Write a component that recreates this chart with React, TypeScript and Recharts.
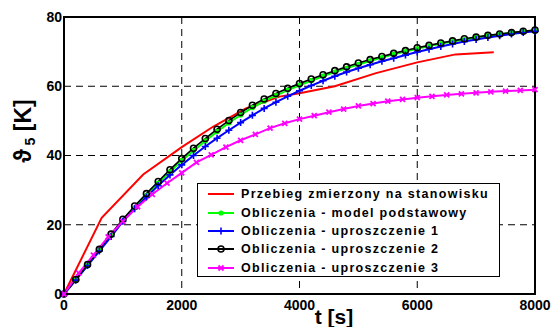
import React from 'react';
import { LineChart, Line, XAxis, YAxis, CartesianGrid, ReferenceArea, Legend } from 'recharts';

// czas [s] dla serii obliczeniowych
const TIMES = [
  0, 200, 400, 600, 800, 1000, 1200, 1400, 1600, 1800, 2000, 2200, 2400, 2600, 2800, 3000,
  3200, 3400, 3600, 3800, 4000, 4200, 4400, 4600, 4800, 5000, 5200, 5400, 5600, 5800, 6000,
  6200, 6400, 6600, 6800, 7000, 7200, 7400, 7600, 7800, 8000,
];
const TIMES_U3 = [
  0, 250, 500, 750, 1000, 1250, 1500, 1750, 2000, 2250, 2500, 2750, 3000, 3250, 3500, 3750,
  4000, 4250, 4500, 4750, 5000, 5250, 5500, 5750, 6000, 6250, 6500, 6750, 7000, 7250, 7500,
  7750, 8000,
];
const TIMES_MEAS = [0, 640, 1345, 2000, 2530, 3090, 3660, 4000, 4600, 5300, 6000, 6650, 7300];

const MEASURED = [0, 22, 34.5, 42.4, 48.3, 53.6, 57, 58, 60, 63.8, 66.9, 69.2, 69.8];
const BASE_MODEL = [
  0, 4.1, 8.3, 12.6, 16.9, 21.1, 24.9, 28.5, 32, 35.3, 38.5, 41.4, 44.2, 46.9, 49.4, 51.7,
  53.8, 55.7, 57.3, 58.9, 60.3, 61.6, 62.9, 64.1, 65.2, 66.3, 67.3, 68.3, 69.2, 70, 70.8,
  71.6, 72.3, 72.9, 73.5, 74.1, 74.6, 75, 75.4, 75.8, 76.1,
];
const SIMPL_1 = [
  0, 4, 8.2, 12.4, 16.6, 21, 24.6, 28, 31.3, 34.4, 37.3, 40, 42.6, 45, 47.3, 49.5,
  51.6, 53.6, 55.4, 57.1, 58.7, 60.2, 61.6, 62.9, 64.1, 65.2, 66.2, 67.2, 68.1, 69, 69.9,
  70.7, 71.5, 72.2, 72.9, 73.5, 74.1, 74.6, 75.1, 75.5, 75.9,
];
const SIMPL_2 = [
  0, 4.2, 8.5, 12.9, 17.3, 21.6, 25.4, 29, 32.5, 35.9, 39.1, 42.1, 44.9, 47.6, 50.1, 52.4,
  54.5, 56.3, 57.9, 59.4, 60.8, 62.1, 63.3, 64.5, 65.6, 66.7, 67.7, 68.6, 69.5, 70.3, 71.1,
  71.8, 72.5, 73.1, 73.7, 74.2, 74.7, 75.1, 75.5, 75.9, 76.2,
];
const SIMPL_3 = [
  0, 6, 11.2, 16.5, 21, 25.2, 28.8, 32, 35, 38, 40.2, 42.4, 44.4, 46.1, 47.9, 49.3,
  50.5, 51.5, 52.5, 53.4, 54.3, 55, 55.7, 56.2, 56.7, 57.1, 57.5, 57.8, 58.1, 58.4, 58.6,
  58.8, 59,
];

const X_TICKS = [0, 2000, 4000, 6000, 8000];
const Y_TICKS = [0, 20, 40, 60, 80];

const LEGEND_LABELS = [
  'Przebieg zmierzony na stanowisku',
  'Obliczenia - model podstawowy',
  'Obliczenia - uproszczenie 1',
  'Obliczenia - uproszczenie 2',
  'Obliczenia - uproszczenie 3',
];

const FONT = '"Liberation Sans", Arial, sans-serif';

const pts = (ts: number[], vs: number[]) => ts.map((t, i) => ({ t, v: vs[i] }));

type Mk = 'none' | 'dot' | 'plus' | 'circle' | 'x';

const marker = (kind: Mk, cx: number, cy: number, color: string, key?: string) => {
  switch (kind) {
    case 'dot':
      return <circle key={key} cx={cx} cy={cy} r={2.6} fill={color} stroke="none" />;
    case 'plus':
      return <path key={key} d={`M${cx - 3.5},${cy}h7M${cx},${cy - 3.5}v7`} stroke={color} strokeWidth={1.6} fill="none" />;
    case 'circle':
      return <circle key={key} cx={cx} cy={cy} r={3} fill="none" stroke={color} strokeWidth={1.6} />;
    case 'x':
      return <path key={key} d={`M${cx - 2.5},${cy - 2.5}l5,5M${cx - 2.5},${cy + 2.5}l5,-5`} stroke={color} strokeWidth={1.8} fill="none" />;
    default:
      return <g key={key} />;
  }
};

const dotFn = (kind: Mk, color: string, id: string) => (p: any) => {
  if (p.cx == null || p.cy == null) return <g key={`${id}-${p.index}`} />;
  return marker(kind, p.cx, p.cy, color, `${id}-${p.index}`);
};

const SERIES: { name: string; color: string; mk: Mk; data: { t: number; v: number }[]; w: number }[] = [
  { name: LEGEND_LABELS[0], color: '#ff0000', mk: 'none', data: pts(TIMES_MEAS, MEASURED), w: 2 },
  { name: LEGEND_LABELS[1], color: '#00ff00', mk: 'dot', data: pts(TIMES, BASE_MODEL), w: 2 },
  { name: LEGEND_LABELS[2], color: '#0000ff', mk: 'plus', data: pts(TIMES, SIMPL_1), w: 2 },
  { name: LEGEND_LABELS[3], color: '#000000', mk: 'circle', data: pts(TIMES, SIMPL_2), w: 1.6 },
  { name: LEGEND_LABELS[4], color: '#ff00ff', mk: 'x', data: pts(TIMES_U3, SIMPL_3), w: 2 },
];

const renderLegend = () => (
  <div
    style={{
      width: 303,
      height: 94,
      boxSizing: 'border-box',
      border: '1.5px solid #000',
      background: '#fff',
      paddingTop: 1,
      fontFamily: FONT,
      fontWeight: 'bold',
      fontSize: 12.5,
      letterSpacing: 1.3,
      color: '#000',
    }}
  >
    {SERIES.map((s) => (
      <div key={s.name} style={{ display: 'flex', alignItems: 'center', height: 18.4 }}>
        <svg width={43} height={12} style={{ flex: 'none' }}>
          <line x1={10} x2={36} y1={6} y2={6} stroke={s.color} strokeWidth={2} />
          {marker(s.mk, 23, 6, s.color)}
        </svg>
        <span style={{ whiteSpace: 'nowrap' }}>{s.name}</span>
      </div>
    ))}
  </div>
);

const YLabel = () => (
  <text
    x={31}
    y={131}
    transform="rotate(-90, 31, 131)"
    textAnchor="middle"
    fontFamily={FONT}
    fontWeight="bold"
    fontSize={23}
    fill="#000"
  >
    ϑ<tspan dy={4} fontSize={14}> 5</tspan>
    <tspan dy={-4}> [K]</tspan>
  </text>
);

const XLabel = () => (
  <text x={334} y={324} textAnchor="middle" fontFamily={FONT} fontWeight="bold" fontSize={21} fill="#000">
    t [s]
  </text>
);

const tickStyle = { fill: '#000', fontSize: 14, fontWeight: 'bold', fontFamily: FONT };

export default function App() {
  return (
    <div style={{ position: 'absolute', left: 0, top: 0, width: 552, height: 327, background: '#fff' }}>
      <LineChart width={552} height={327} margin={{ top: 17, right: 17, bottom: 0, left: 0 }}>
        <CartesianGrid stroke="#000" strokeDasharray="7 5" strokeWidth={1} />
        <XAxis
          dataKey="t"
          type="number"
          domain={[0, 8000]}
          ticks={X_TICKS}
          height={33}
          axisLine={false}
          tickLine={false}
          tickSize={4}
          tickMargin={2}
          tick={tickStyle}
          allowDuplicatedCategory={false}
          label={{ content: () => <XLabel /> }}
        />
        <YAxis
          type="number"
          domain={[0, 80]}
          ticks={Y_TICKS}
          width={64}
          axisLine={false}
          tickLine={false}
          tickSize={2}
          tickMargin={0}
          tick={tickStyle}
          label={{ content: () => <YLabel /> }}
        />
        <ReferenceArea x1={0} x2={8000} y1={0} y2={80} fill="none" stroke="#000" strokeWidth={2} ifOverflow="visible" />
        {SERIES.map((s, i) => (
          <Line
            key={s.name}
            data={s.data}
            dataKey="v"
            name={s.name}
            type="linear"
            stroke={s.color}
            strokeWidth={s.w}
            dot={s.mk === 'none' ? false : dotFn(s.mk, s.color, `s${i}`)}
            activeDot={false}
            isAnimationActive={false}
          />
        ))}
        <Legend
          layout="horizontal"
          verticalAlign="middle"
          align="center"
          content={renderLegend}
          wrapperStyle={{ position: 'absolute', left: 197, top: 183, width: 303, height: 94 }}
        />
      </LineChart>
    </div>
  );
}
